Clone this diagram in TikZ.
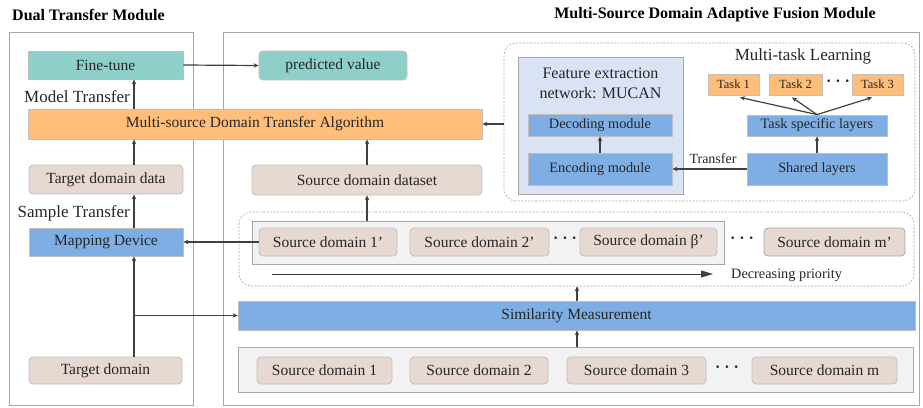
\documentclass[tikz,border=0pt]{standalone}
\usepackage{fontspec}
\setmainfont{Liberation Serif}
\usetikzlibrary{arrows.meta,calc}
\definecolor{tealc}{HTML}{8ECFC9}
\definecolor{orng}{HTML}{FFBE7A}
\definecolor{blu}{HTML}{7EAEE3}
\definecolor{beig}{HTML}{E7D8D1}
\definecolor{lblu}{HTML}{DAE3F3}
\definecolor{lgray}{HTML}{F2F2F2}
\definecolor{bord}{HTML}{BFBFBF}
\definecolor{panelc}{HTML}{A6A6A6}
\definecolor{arrc}{HTML}{404040}
\definecolor{txt}{HTML}{262626}
\begin{document}
\begin{tikzpicture}[x=1pt,y=-1pt,
  base/.style={draw=bord, line width=0.8pt, inner sep=0pt, text=txt, font=\fontsize{15.5}{18}\selectfont},
  sz/.style 2 args={minimum width=#1pt, minimum height=#2pt},
  tealbox/.style={base, fill=tealc},
  orgbox/.style={base, fill=orng},
  blubox/.style={base, fill=blu},
  beigebox/.style={base, fill=beig, rounded corners=4pt},
  graybox/.style={draw=panelc, line width=0.8pt, fill=lgray, inner sep=0pt},
  panel/.style={draw=panelc, line width=1pt, inner sep=0pt},
  dashreg/.style={draw=panelc, line width=0.6pt, dash pattern=on 2pt off 1.5pt, rounded corners=12pt, inner sep=0pt},
  lbl/.style={text=txt, inner sep=0pt, font=\fontsize{17}{20}\selectfont},
  ttl/.style={text=black, inner sep=0pt, font=\fontsize{16}{19}\selectfont\bfseries},
  dots/.style={text=txt, inner sep=0pt, font=\fontsize{16}{19}\selectfont\bfseries},
  arr/.style={draw=arrc, line width=1.2pt, -{Stealth[length=5pt,width=4.5pt]}},
]
\useasboundingbox (0,0) rectangle (923,407);
\fill[white] (0,0) rectangle (923,407);

% titles
\node[ttl, anchor=west] (t1ttl) at (12,15) {Dual Transfer Module};
\node[ttl] (t2ttl) at (715,15) {Multi-Source Domain Adaptive Fusion Module};

% panels
\node[panel, sz={184}{373}] (lp) at (101,218.5) {};
\node[panel, sz={696}{373}] (rp) at (571,218.5) {};

% regions
\node[dashreg, sz={411}{158}] (mtr) at (709.5,122) {};
\node[dashreg, sz={675}{74}] (pr) at (576.5,249) {};
\node[graybox, sz={472}{43}] (g1) at (488,242.5) {};
\node[graybox, sz={675}{45}] (g2) at (575.5,369.5) {};

% left column
\node[tealbox, sz={155}{28}] (ft) at (105.5,65) {Fine-tune};
\node[lbl, anchor=east] (mtl) at (130,97) {Model Transfer};
\node[orgbox, sz={454}{30}] (alg) at (255,124) {Multi-source Domain Transfer Algorithm};
\node[beigebox, sz={154}{29}] (tdd) at (106,179.5) {Target domain data};
\node[lbl, anchor=east] (stl) at (130,213) {Sample Transfer};
\node[blubox, sz={154}{28}] (map) at (106,242) {Mapping Device};
\node[beigebox, sz={153}{27}] (td) at (105.5,370.5) {Target domain};

% right top
\node[tealbox, rounded corners=4pt, sz={148}{29}] (pv) at (333,65.5) {predicted value};
\node[beigebox, sz={230}{30}] (sdd) at (367,180) {Source domain dataset};

\node[draw=panelc, line width=0.9pt, fill=lblu, sz={165}{137}, inner sep=0pt] (muc) at (600.5,125.5) {};
\node[text=txt, align=center, inner sep=0pt, font=\fontsize{16}{20}\selectfont] (muct) at (600.5,83) {Feature extraction\\network: MUCAN};
\node[blubox, sz={144}{22}, font=\fontsize{14.3}{17}\selectfont] (dec) at (600,125) {Decoding module};
\node[blubox, sz={144}{32}, font=\fontsize{14.3}{17}\selectfont] (enc) at (600,169) {Encoding module};

\node[lbl] (mtlt) at (803,56) {Multi-task Learning};
\node[orgbox, sz={51}{21}, font=\fontsize{12.5}{15}\selectfont] (ta) at (733.5,84.5) {Task 1};
\node[orgbox, sz={53}{21}, font=\fontsize{12.5}{15}\selectfont] (tb) at (795.5,84.5) {Task 2};
\node[dots] (dt0) at (838,83) {· · ·};
\node[orgbox, sz={51}{21}, font=\fontsize{12.5}{15}\selectfont] (tc) at (877.5,84.5) {Task 3};
\node[blubox, sz={140}{21}, font=\fontsize{14.3}{17}\selectfont] (tsl) at (817,125.5) {Task specific layers};
\node[blubox, sz={140}{32}, font=\fontsize{14.3}{17}\selectfont] (shl) at (817,169) {Shared layers};
\node[text=txt, inner sep=0pt, font=\fontsize{14}{17}\selectfont] (trl) at (713,159) {Transfer};

% priority row
\node[beigebox, sz={138}{28}] (sd1p) at (328,242) {Source domain 1’};
\node[beigebox, sz={139}{28}] (sd2p) at (479.5,242) {Source domain 2’};
\node[dots] (dt1) at (565,240) {· · ·};
\node[beigebox, sz={137}{28}] (sdbp) at (648.5,242) {Source domain β’};
\node[dots] (dt2) at (742,240) {· · ·};
\node[beigebox, draw=panelc, sz={141}{28}] (sdmp) at (834.5,242) {Source domain m’};
\coordinate (ps) at (272,274);
\coordinate (pe) at (713,274);
\node[text=txt, inner sep=0pt, anchor=west, font=\fontsize{14.3}{17}\selectfont] (dp) at (731,275) {Decreasing priority};

% similarity
\node[blubox, sz={677}{29}] (sim) at (576.5,315.5) {Similarity Measurement};

% bottom row
\node[beigebox, sz={135}{27}] (sd1) at (324.5,370.5) {Source domain 1};
\node[beigebox, sz={138}{27}] (sd2) at (479,370.5) {Source domain 2};
\node[beigebox, sz={139}{27}] (sd3) at (636.5,370.5) {Source domain 3};
\node[dots] (dt3) at (727,369) {· · ·};
\node[beigebox, sz={145}{27}] (sdm) at (824.5,370.5) {Source domain m};

% connectors
\coordinate (sp) at (134,0);
\coordinate (br) at (134,315.5);
\coordinate (cx) at (367,0);
\coordinate (sx) at (577,0);
\draw[arr] (alg.north -| sp) -- (ft.south -| sp);
\draw[arr] (tdd.north -| sp) -- (alg.south -| sp);
\draw[arr] (map.north -| sp) -- (tdd.south -| sp);
\draw[arr] (td.north -| sp) -- (map.south -| sp);
\draw[arr] (br) -- (sim.west);
\draw[arr] (ft.east) -- (pv.west);
\draw[arr] (sdd.north -| cx) -- (alg.south -| cx);
\draw[arr] (g1.north -| cx) -- (sdd.south -| cx);
\draw[arr] (mtr.west |- alg.east) -- (alg.east);
\draw[arr] (enc.north) -- (dec.south);
\draw[arr] (shl.north) -- (tsl.south);
\draw[arr] (tsl.north) -- ($(ta.south)+(6.5,2)$);
\draw[arr] (tsl.north) -- ($(tb.south)+(-3.5,2)$);
\draw[arr] (tsl.north) -- ($(tc.south)+(-5.5,2)$);
\draw[arr] (shl.west) -- (enc.east);
\draw[arr] (sd1p.west) -- (map.east);
\draw[draw=arrc, line width=0.8pt, -{Triangle[length=12pt,width=7pt]}] (ps) -- (pe);
\draw[arr] (sim.north -| sx) -- (pr.south -| sx);
\draw[arr] (g2.north -| sx) -- (sim.south -| sx);
\end{tikzpicture}
\end{document}
